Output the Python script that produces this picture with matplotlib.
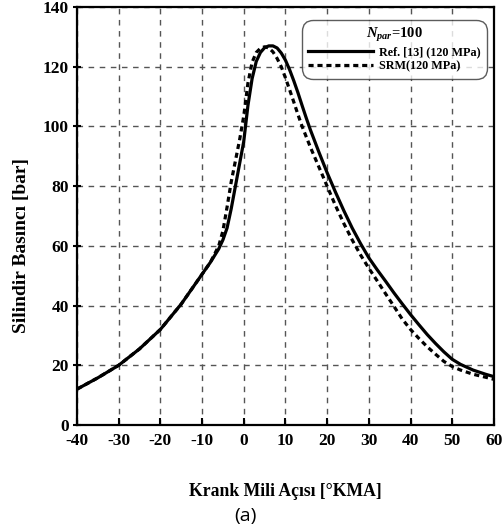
import matplotlib
matplotlib.use("Agg")
import matplotlib.pyplot as plt

# crank angle [deg] and cylinder pressure [bar]
ref_angle = [-40, -35, -30, -25, -20, -15, -10, -8, -6, -5, -4, -3, -2, -1, 0, 1, 2, 3, 4,
             5, 6, 7, 8, 9, 10, 11, 12, 13, 14, 15, 16, 18, 20, 22, 24, 26, 28, 30, 32, 34,
             36, 38, 40, 42, 44, 46, 48, 50, 52, 55, 58, 60]
ref_press = [12, 15.8, 20, 25.5, 32, 40.5, 50.5, 54.5, 59, 62, 66, 72.5, 80, 87.5, 95, 107, 116, 121.8, 124.8,
             126.4, 127, 127, 126.3, 124.6, 122.2, 119, 115.3, 111.3, 107, 102.8, 98.8, 91.5, 84.5, 78, 71.8, 66, 60.8, 56, 52, 48.2,
             44.3, 40.6, 37, 33.6, 30.3, 27.3, 24.5, 22, 20.3, 18.4, 17, 16.2]

srm_angle = [-40, -35, -30, -25, -20, -15, -10, -8, -6, -5, -4, -3, -2, -1, 0, 1, 2, 3, 4,
             5, 6, 7, 8, 9, 10, 11, 12, 13, 14, 16, 18, 20, 22, 24, 26, 28, 30, 32, 34,
             36, 38, 40, 42, 44, 46, 48, 50, 52, 55, 58, 60]
srm_press = [12, 15.8, 20, 25.5, 32, 40.5, 50.5, 54.5, 60, 65, 73, 81.5, 88.5, 95.5, 103.5, 114.5, 121.5, 124.8, 126.2,
             126.7, 126.3, 125, 122.8, 120, 116.3, 112.3, 108.2, 104, 100, 93, 86.5, 80, 73.5, 67.5, 62, 57, 52.5, 48.3, 44,
             39.8, 35.5, 32, 29, 26.2, 23.7, 21.3, 19.6, 18.4, 17, 16, 15.3]

x_ticks = list(range(-40, 61, 10))
y_ticks = list(range(0, 141, 20))

plt.rcParams["font.family"] = ["Liberation Serif", "DejaVu Serif"]
plt.rcParams["font.weight"] = "bold"
plt.rcParams["mathtext.fontset"] = "custom"
plt.rcParams["mathtext.rm"] = "Liberation Serif"
plt.rcParams["mathtext.it"] = "Liberation Serif:italic"

fig = plt.figure(figsize=(5.03, 5.29), dpi=100)
ax = fig.add_axes([0.153, 0.1966, 0.829, 0.790])

ax.plot(ref_angle, ref_press, color="black", lw=2.3, label="Ref. [13] (120 MPa)")
ax.plot(srm_angle, srm_press, color="black", lw=2.3, linestyle=(0, (1.6, 1.2)),
        label="SRM(120 MPa)")

ax.set_xlim(-40, 60)
ax.set_ylim(0, 140)
ax.set_xticks(x_ticks)
ax.set_xticklabels([str(v) for v in x_ticks], fontweight="bold", fontsize=12.5)
ax.set_yticks(y_ticks)
ax.set_yticklabels([str(v) for v in y_ticks], fontweight="bold", fontsize=12.5)
ax.tick_params(axis="x", direction="in", length=5, width=1.5, pad=6)
ax.tick_params(axis="y", direction="inout", length=6, width=1.5, pad=3)
ax.grid(True, color="#555555", linestyle=(0, (4, 4)), linewidth=1.0)
for sp in ax.spines.values():
    sp.set_linewidth(1.6)

ax.set_xlabel("Krank Mili Açısı [°KMA]", fontsize=12.7, fontweight="bold", labelpad=24)
ax.set_ylabel("Silindir Basıncı [bar]", fontsize=14, fontweight="bold")
ax.yaxis.set_label_coords(-0.113, 0.43)

leg = ax.legend(title=r"$N_{par}$=100", loc="upper right",
                prop={"size": 8.7, "weight": "bold"}, title_fontsize=10.5, frameon=True,
                fancybox=True, handlelength=5.4, borderpad=0.5, labelspacing=0.2,
                handletextpad=0.5, bbox_to_anchor=(0.997, 0.984))
leg.get_title().set_fontweight("bold")
leg.get_frame().set_edgecolor("#333333")
leg.get_frame().set_linewidth(1.0)
leg.get_frame().set_boxstyle("round,pad=0,rounding_size=0.9")

fig.text(0.487, 0.008, "(a)", fontsize=14, family="Open Sans", ha="center", va="bottom",
         fontweight="normal")

fig.savefig("out.png", dpi=100)
